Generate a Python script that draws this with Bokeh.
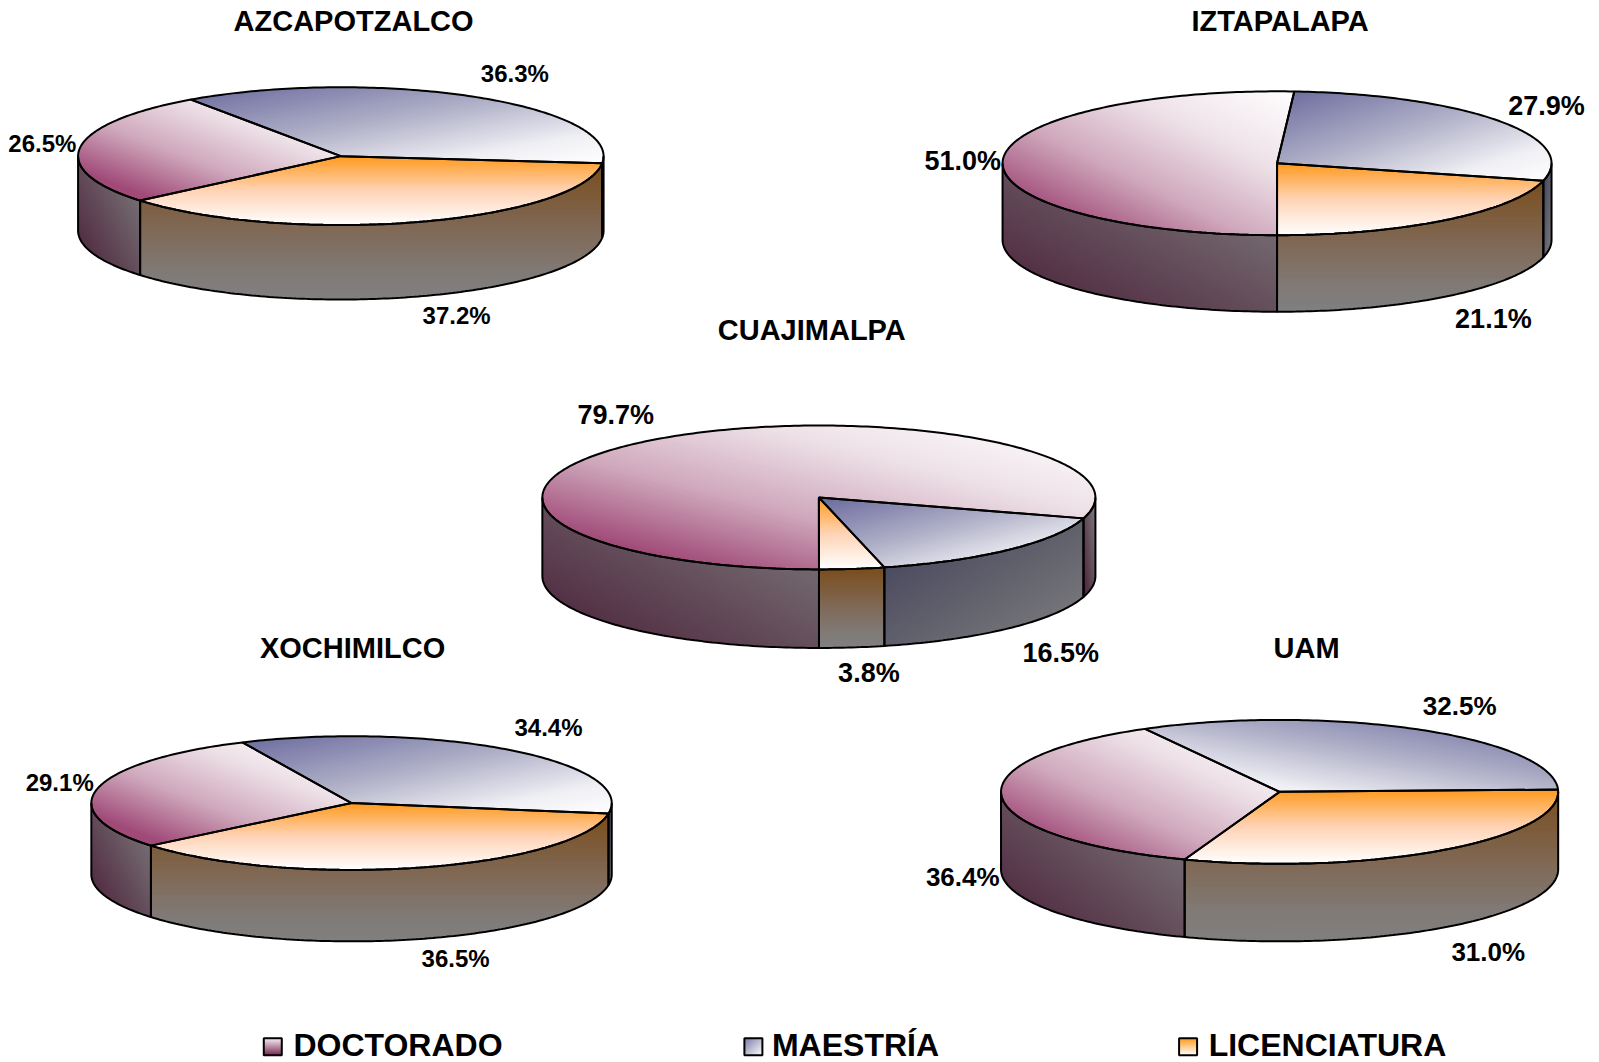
import math
import numpy as np
from bokeh.plotting import figure
from bokeh.models import Range1d, ColumnDataSource
from bokeh.core.properties import value
from bokeh.embed import file_html
from bokeh.resources import INLINE

# ---- data ----
campus = ["AZCAPOTZALCO", "IZTAPALAPA", "CUAJIMALPA", "XOCHIMILCO", "UAM"]
maestria = [36.3, 27.9, 16.5, 34.4, 32.5]
licenciatura = [37.2, 21.1, 3.8, 36.5, 31.0]
doctorado = [26.5, 51.0, 79.7, 29.1, 36.4]
legend_labels = ["DOCTORADO", "MAESTRÍA", "LICENCIATURA"]

# ---- layout (pixels) ----
SX = 1 / 0.98
SY = 1 / 0.98
# cx, cy, rx, ry, depth, start angle clockwise from top, maestria gradient flipped
geom = [
    (334.5, 153.5, 257.5, 67.5, 73, -34.8, False),
    (1252, 160.5, 269, 70.5, 75, 3.6, False),
    (803, 488, 271, 70.5, 77, 106.9, False),
    (345, 787.5, 255, 65.5, 70, -24.8, False),
    (1254.5, 776.5, 273, 70.5, 76, -28.9, True),
]
title_pos = [(347, 21), (1255, 21), (796, 324), (346, 636), (1281, 636)]
# label centres in order maestria, licenciatura, doctorado
label_pos = [
    [(505, 73), (448, 310), (42, 141)],
    [(1516, 104), (1464, 313), (944, 158)],
    [(1040, 640), (852, 660), (604, 407)],
    [(538, 713), (447, 940), (59, 767)],
    [(1431, 692), (1459, 933), (944, 860)],
]
label_size = [24, 27, 27, 24, 26]
legend_swatch_x = [259, 730, 1156]
legend_text_x = [288, 757, 1185]
legend_y = 1025

# ---- gradients: colour stops and (ax, ay, k) with t = ax*u + ay*v + k ----
DOC_STOPS = [(0, "#a04a78"), (0.15, "#a04a78"), (0.42, "#cfa8bc"), (0.7, "#eee2e8"), (1, "#ffffff")]
MAE_STOPS = [(0, "#6a6a9e"), (0.45, "#b0b0c8"), (0.8, "#f0f0f5"), (1, "#ffffff")]
G_DOC_TOP = (DOC_STOPS, (0.5, -0.5, 0.5))
G_MAE_TOP = (MAE_STOPS, (0.5, 0.5, 0))
G_MAE_TOP_F = (MAE_STOPS, (-0.5, 0.5, 0.5))
G_LIC_TOP = ([(0, "#ff9a1e"), (0.5, "#ffd3b5"), (1, "#ffffff")], (0, 1, 0))
G_DOC_SIDE = ([(0, "#4a1f38"), (1, "#808080")], (0.5, -0.5, 0.5))
G_MAE_SIDE = ([(0, "#3f3f58"), (1, "#808080")], (0.5, 0.5, 0))
G_LIC_SIDE = ([(0, "#7a4d1c"), (0.5, "#806a58"), (0.8, "#807a76"), (1, "#808080")], (0, 1, 0))
G_DOC_SW = ([(0, "#f8f0f4"), (1, "#7a2a55")], (0, 1, 0))
G_MAE_SW = ([(0, "#7a7aa8"), (1, "#ffffff")], (0.5, 0.5, 0))
G_LIC_SW = ([(0, "#ff9a1e"), (1, "#ffffff")], (0, 1, 0))
BANDS = 96


def rgb(h):
    return tuple(int(h[i:i + 2], 16) for i in (1, 3, 5))


def color_at(stops, t):
    t = min(max(t, 0), 1)
    for (t0, c0), (t1, c1) in zip(stops, stops[1:]):
        if t <= t1:
            f = (t - t0) / (t1 - t0)
            a, b = rgb(c0), rgb(c1)
            return "#%02x%02x%02x" % tuple(round(a[i] + (b[i] - a[i]) * f) for i in range(3))
    return stops[-1][1]


def clip(poly, fn, c):
    out = []
    n = len(poly)
    for i in range(n):
        p, q = poly[i], poly[(i + 1) % n]
        fp, fq = fn(p) - c, fn(q) - c
        if fp >= 0:
            out.append(p)
        if (fp >= 0) != (fq >= 0):
            s = fp / (fp - fq)
            out.append((p[0] + (q[0] - p[0]) * s, p[1] + (q[1] - p[1]) * s))
    return out


fill_xs, fill_ys, fill_cs = [], [], []
line_xs, line_ys = [], []


def add_gradient(poly, grad, outline=True):
    stops, (ax, ay, k) = grad
    xs = [p[0] for p in poly]
    ys = [p[1] for p in poly]
    x0, y0 = min(xs), min(ys)
    w, h = max(max(xs) - x0, 1e-6), max(max(ys) - y0, 1e-6)
    fn = lambda p: ax * (p[0] - x0) / w + ay * (p[1] - y0) / h + k
    fill_xs.append(xs)
    fill_ys.append(ys)
    fill_cs.append(color_at(stops, 0))
    for i in range(1, BANDS):
        ti = i / BANDS
        part = clip(poly, fn, ti)
        if len(part) >= 3:
            fill_xs.append([p[0] for p in part])
            fill_ys.append([p[1] for p in part])
            fill_cs.append(color_at(stops, ti + 0.5 / BANDS))
    if outline:
        line_xs.append(xs)
        line_ys.append(ys)


def arc(cx, cy, rx, ry, a, b):
    n = max(int(abs(b - a)) + 1, 2)
    pts = []
    for th in np.linspace(a, b, n + 1):
        r = math.radians(th)
        pts.append((cx + rx * math.sin(r), cy - ry * math.cos(r)))
    return pts


def side_spans(a, b):
    spans = []
    for lo, hi in ((-270, -90), (90, 270), (450, 630)):
        s, e = max(a, lo), min(b, hi)
        if e - s > 0.01:
            spans.append((s, e))
    return spans


side_polys, top_polys = [], []
for i in range(len(campus)):
    cx, cy, rx, ry, depth, start, flip = geom[i]
    cx, cy, rx, ry, depth = cx * SX, cy * SY, rx * SX, ry * SY, depth * SY
    vals = [maestria[i], licenciatura[i], doctorado[i]]
    total = sum(vals)
    grads_top = [G_MAE_TOP_F if flip else G_MAE_TOP, G_LIC_TOP, G_DOC_TOP]
    grads_side = [G_MAE_SIDE, G_LIC_SIDE, G_DOC_SIDE]
    a = start
    for v, gt, gs in zip(vals, grads_top, grads_side):
        b = a + v / total * 360
        for s, e in side_spans(a, b):
            upper = arc(cx, cy, rx, ry, s, e)
            lower = [(x, y + depth) for x, y in reversed(upper)]
            side_polys.append((upper + lower, gs))
        top_polys.append(([(cx, cy)] + arc(cx, cy, rx, ry, a, b), gt))
        a = b

for poly, g in side_polys:
    add_gradient(poly, g)
for poly, g in top_polys:
    add_gradient(poly, g)

for sx, g in zip(legend_swatch_x, (G_DOC_SW, G_MAE_SW, G_LIC_SW)):
    x0, y0 = sx * SX, (legend_y - 7) * SY
    x1, y1 = x0 + 18, y0 + 17
    add_gradient([(x0, y0), (x1, y0), (x1, y1), (x0, y1)], g)

p = figure(width=1599, height=1062, output_backend="svg", toolbar_location=None,
           x_range=Range1d(1, 1600), y_range=Range1d(1063, 1),
           min_border=0, outline_line_color=None)
p.axis.visible = False
p.grid.visible = False
p.xaxis.visible = False
p.yaxis.visible = False

p.patches("x", "y", fill_color="c", line_color=None,
          source=ColumnDataSource(dict(x=fill_xs, y=fill_ys, c=fill_cs)))
p.patches("x", "y", fill_alpha=0, line_color="#000000", line_width=2,
          source=ColumnDataSource(dict(x=line_xs, y=line_ys)))

FONT = value("Liberation Sans")
for name, (tx, ty) in zip(campus, title_pos):
    p.text([tx * SX], [ty * SY], text=[name], text_font=FONT, text_font_style="bold",
           text_font_size="29px", text_align="center", text_baseline="middle", text_color="#000000")
for i in range(len(campus)):
    vals = [maestria[i], licenciatura[i], doctorado[i]]
    for v, (lx, ly) in zip(vals, label_pos[i]):
        p.text([lx * SX], [ly * SY], text=["%.1f%%" % v], text_font=FONT, text_font_style="bold",
               text_font_size="%dpx" % label_size[i], text_align="center", text_baseline="middle",
               text_color="#000000")
for name, lx in zip(legend_labels, legend_text_x):
    p.text([lx * SX], [legend_y * SY], text=[name], text_font=FONT, text_font_style="bold",
           text_font_size="32px", text_align="left", text_baseline="middle", text_color="#000000")

open("out.html", "w").write(file_html(p, INLINE))
